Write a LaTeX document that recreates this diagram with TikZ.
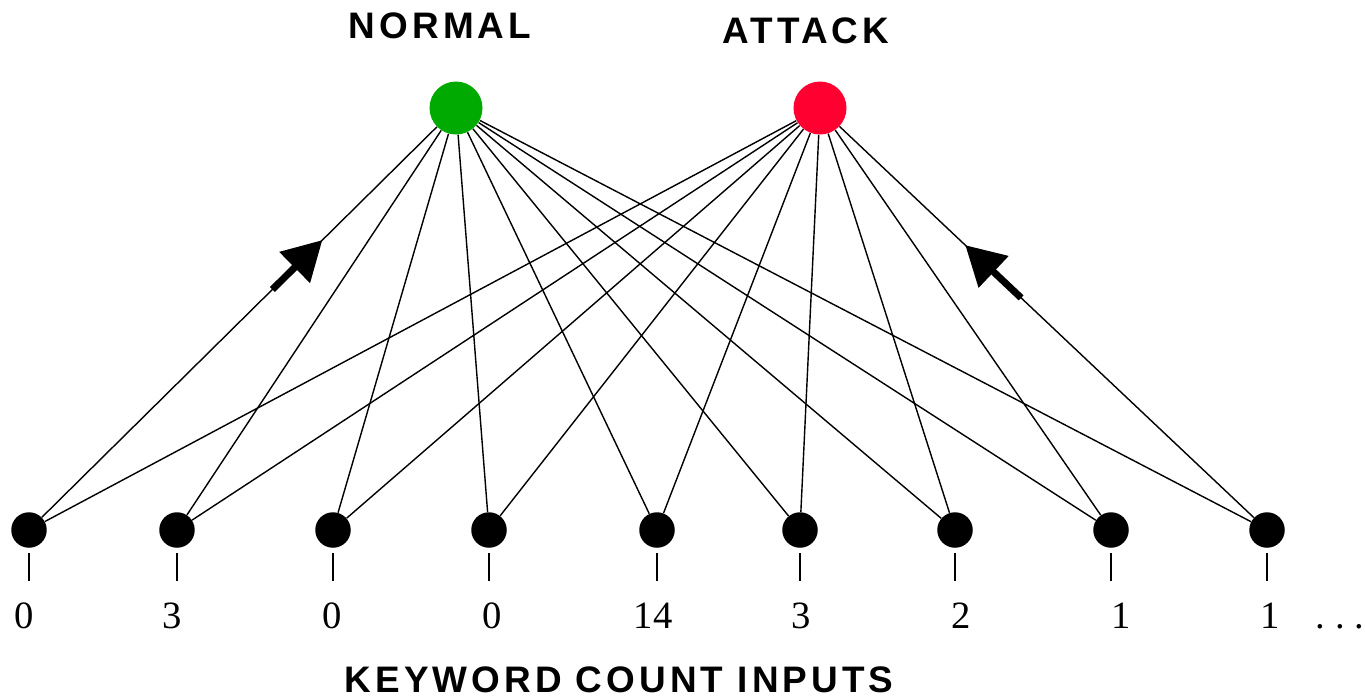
\documentclass[tikz,border=0pt]{standalone}
\usepackage{fontspec}
\setmainfont{Liberation Serif}
\newfontfamily\headfont[LetterSpace=11]{Liberation Sans}
\usepackage{tikz}
\usetikzlibrary{arrows.meta, calc}
\definecolor{normalgreen}{RGB}{0,170,0}
\definecolor{attackred}{RGB}{255,0,48}

\begin{document}
\begin{tikzpicture}[x=0.02cm, y=-0.02cm,
  outnode/.style={circle, minimum size=1.06cm, inner sep=0pt},
  input/.style={circle, fill=black, minimum size=0.71cm, inner sep=0pt},
  head/.style={anchor=base, font=\fontsize{21}{25}\selectfont\headfont\bfseries},
  count/.style={anchor=base, font=\fontsize{22}{26}\selectfont},
  conn/.style={line width=0.8pt},
  tick/.style={line width=1.2pt},
  bigarr/.style={-{Triangle[length=0.78cm, width=0.84cm]}, line width=0.14cm}
]
  \useasboundingbox (0,0) rectangle (1365,698);

  % output classes
  \node[outnode, fill=normalgreen] (normal) at (456,108) {};
  \node[outnode, fill=attackred]   (attack) at (820,108) {};
  \node[head] (normallbl) at (440,38) {NORMAL};
  \node[head] (attacklbl) at (806,43) {ATTACK};

  % keyword count inputs
  \foreach \i/\x/\v/\lx in {1/29/0/24, 2/177/3/172, 3/333/0/332, 4/489/0/492,
                            5/657/14/653, 6/800/3/801, 7/955/2/961,
                            8/1111/1/1121, 9/1267/1/1270} {
    \node[input] (in\i) at (\x,530) {};
    \node[count] (c\i) at (\lx,628) {\v};
    \draw[tick] ([yshift=-0.1cm]in\i.south) -- ++(0,28);
    \draw[conn] (in\i) -- (normal);
    \draw[conn] (in\i) -- (attack);
  }
  \node[count] (dots) at (1340,628) {.\ .\ .};
  \node[head] (inputlbl) at (619,692) {KEYWORD COUNT INPUTS};

  % direction arrows
  \draw[bigarr] ($(in1)!0.57!(normal)$) -- ($(in1)!0.687!(normal)$);
  \draw[bigarr] ($(in9)!0.55!(attack)$) -- ($(in9)!0.675!(attack)$);
\end{tikzpicture}
\end{document}
